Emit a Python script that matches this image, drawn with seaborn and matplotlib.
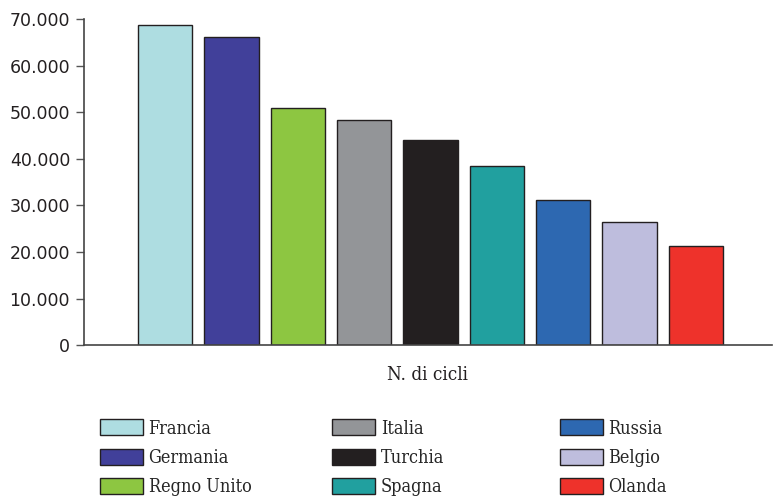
import pandas as pd
import matplotlib
matplotlib.use("Agg")
import matplotlib.pyplot as plt
from matplotlib.ticker import FuncFormatter
import seaborn as sns

# dati
paesi = ["Francia", "Germania", "Regno Unito", "Italia", "Turchia",
         "Spagna", "Russia", "Belgio", "Olanda"]
cicli = [68700, 66100, 50800, 48300, 44000, 38400, 31100, 26400, 21300]
colori = ["#aedde1", "#41409a", "#8dc641", "#939598", "#231f20",
          "#21a09f", "#2d68b1", "#bebddd", "#ee322b"]

df = pd.DataFrame({"paese": paesi, "cicli": cicli})

sns.set_style("white")
serif = ["DejaVu Serif", "Liberation Serif"]
plt.rcParams["font.family"] = ["DejaVu Sans"]

fig = plt.figure(figsize=(7.74, 4.98), dpi=100)
ax = fig.add_axes([0.1085, 0.307, 0.8885, 0.655])

sns.barplot(data=df, x="paese", y="cicli", hue="paese", order=paesi,
            hue_order=paesi, palette=colori, width=0.82, saturation=1,
            edgecolor="#231f20", linewidth=1, legend=False, ax=ax)

ax.set_ylim(0, 70000)
ax.set_xlim(-1.22, 9.14)
ax.set_yticks(range(0, 70001, 10000))
ax.yaxis.set_major_formatter(FuncFormatter(lambda v, p: f"{int(v):,}".replace(",", ".")))
ax.set_xticks([])
ax.tick_params(axis="y", left=True, length=6, width=1, color="#555555",
               labelsize=12.5, labelcolor="#231f20", pad=4)

for s in ["top", "right"]:
    ax.spines[s].set_visible(False)
for s in ["left", "bottom"]:
    ax.spines[s].set_color("#444444")
    ax.spines[s].set_linewidth(1.2)

ax.set_ylabel("")
ax.set_xlabel("N. di cicli", fontsize=13.5, family=serif, fontstretch="condensed",
              color="#231f20", labelpad=15)

# legenda in tre colonne
handles = ax.patches
xs = [0.129, 0.429, 0.723]
for c in range(3):
    h = handles[c * 3:(c + 1) * 3]
    lab = paesi[c * 3:(c + 1) * 3]
    fig.legend(h, lab, loc="upper left", bbox_to_anchor=(xs[c], 0.158),
               frameon=False, handlelength=2.4, handleheight=1.0,
               handletextpad=0.3, labelspacing=0.62, borderpad=0, borderaxespad=0,
               prop={"family": serif, "stretch": "condensed", "size": 13})

fig.savefig("out.png", dpi=100)
